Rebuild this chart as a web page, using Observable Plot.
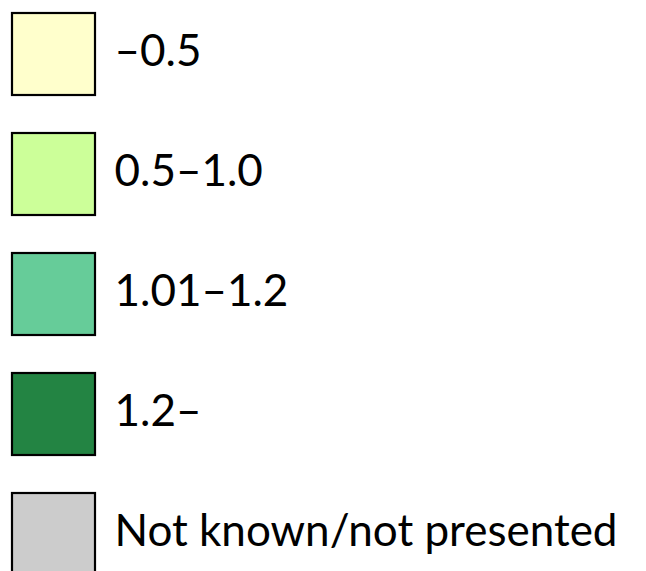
<!DOCTYPE html>
<html>
<head>
<meta charset="utf-8">
<script src="https://cdn.jsdelivr.net/npm/d3@7"></script>
<script src="https://cdn.jsdelivr.net/npm/@observablehq/plot@0.6"></script>
<style>
  html, body { margin: 0; padding: 0; background: #fff; }
  svg { display: block; }
</style>
</head>
<body>
<div id="chart"></div>
<script>
const labels = ["–0.5", "0.5–1.0", "1.01–1.2", "1.2–", "Not known/not presented"];
const colors = ["#FFFFCC", "#CCFF99", "#66CC99", "#238443", "#CCCCCC"];

const rows = labels.map((label, i) => ({label, color: colors[i], col: "swatch"}));

const chart = Plot.plot({
  width: 646,
  height: 571,
  margin: 0,
  style: {background: "#fff", fontFamily: "Lato, sans-serif"},
  x: {type: "band", domain: ["swatch"], range: [12, 95], padding: 0, axis: null},
  y: {type: "band", domain: labels, range: [12, 575], paddingInner: 0.318, paddingOuter: 0, axis: null},
  marks: [
    Plot.cell(rows, {x: "col", y: "label", fill: "color", stroke: "#000", strokeWidth: 2.2, inset: 0}),
    Plot.text(rows, {y: "label", text: "label", frameAnchor: "left", dx: 114, dy: -3, textAnchor: "start", fontSize: 44, fontWeight: 400, fill: "#000"})
  ]
});
document.getElementById("chart").appendChild(chart);
</script>
</body>
</html>
